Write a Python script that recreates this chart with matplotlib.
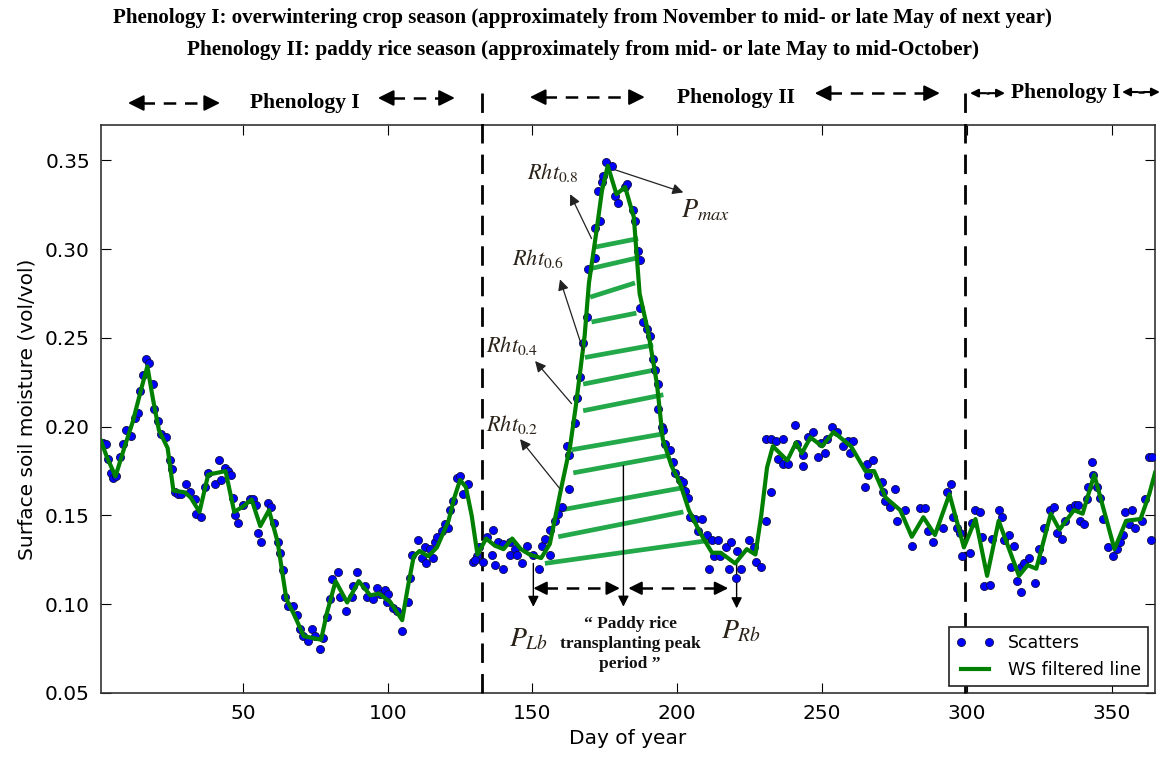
import matplotlib
matplotlib.use("Agg")
import matplotlib.pyplot as plt

# WS filtered line (day of year, soil moisture)
line_day = [1, 3, 6, 9, 12, 15, 17, 19, 21, 24, 26, 30, 32, 35, 38, 41, 44, 47, 50, 53,
            56, 59, 62, 65, 68, 71, 74, 77, 79, 82, 86, 90, 94, 97, 101, 105, 107, 109, 111, 114,
            117, 121, 123, 125, 127, 129, 131, 134, 137, 140, 143, 146, 149, 153, 156, 158, 160, 163, 165, 168,
            169.5, 172, 174, 176, 179, 182, 185, 187, 190, 193, 195, 198, 201, 204, 208, 212, 215, 220, 224, 227,
            229, 231, 233, 238, 241, 243, 246, 250, 254, 257, 260, 265, 268, 272, 277, 281, 285, 289, 294, 299,
            303, 307, 311, 318, 321, 324, 329, 332, 337, 340, 344, 346, 351, 355, 360, 363, 365]
line_val = [0.192, 0.183, 0.172, 0.188, 0.203, 0.222, 0.234, 0.215, 0.198, 0.188, 0.164, 0.163, 0.160, 0.152, 0.173, 0.174, 0.175, 0.152, 0.155, 0.159,
            0.144, 0.153, 0.135, 0.103, 0.093, 0.082, 0.081, 0.080, 0.095, 0.113, 0.101, 0.113, 0.105, 0.106, 0.101, 0.091, 0.110, 0.127, 0.130, 0.127,
            0.132, 0.147, 0.160, 0.170, 0.166, 0.150, 0.128, 0.137, 0.133, 0.131, 0.137, 0.131, 0.128, 0.126, 0.134, 0.150, 0.166, 0.189, 0.212, 0.251,
            0.281, 0.309, 0.333, 0.347, 0.331, 0.335, 0.318, 0.275, 0.253, 0.224, 0.193, 0.178, 0.168, 0.153, 0.140, 0.129, 0.129, 0.123, 0.131, 0.128,
            0.150, 0.177, 0.189, 0.181, 0.191, 0.185, 0.194, 0.189, 0.197, 0.193, 0.189, 0.175, 0.175, 0.160, 0.153, 0.138, 0.149, 0.139, 0.162, 0.132,
            0.148, 0.116, 0.147, 0.116, 0.122, 0.120, 0.151, 0.142, 0.153, 0.151, 0.173, 0.161, 0.131, 0.147, 0.148, 0.162, 0.174]

# raw scatters
scatter_day = [1.7, 2.8, 3.4, 4.6, 5.1, 6.3, 7.5, 8.6, 9.7, 11.5, 12.6, 13.8, 14.4, 15.5, 16.6, 17.5, 18.9, 19.3, 20.7, 21.8,
               23.5, 24.7, 25.5, 26.4, 27.6, 28.7, 30.5, 31.6, 33.4, 33.9, 35.6, 36.8, 37.9, 40.2, 41.6, 42.5, 43.7, 44.9, 46.0, 46.6,
               47.2, 48.3, 50.0, 52.3, 53.5, 54.6, 55.2, 56.4, 58.7, 59.8, 60.9, 62.1, 62.7, 63.8,
               64.5, 65.7, 67.4, 68.6, 69.7, 70.9, 72.6, 73.7, 74.9, 76.6, 77.8, 78.9, 80.1, 80.7, 82.9, 83.5, 85.6, 87.6, 88.1, 89.5,
               92.2, 92.7, 95.0, 96.4, 97.3, 99.1, 100.2, 99.6, 101.9, 103.1, 104.8, 107.1, 107.7, 108.3, 110.6, 111.7, 112.9, 113.4, 114.6, 115.7,
               116.3, 116.9, 118.6, 119.8, 120.9, 121.5, 122.4, 123.8, 125.0, 126.1, 127.8, 129.6, 130.7, 131.6,
               130.1, 133.0, 134.2, 135.9, 136.5, 137.1, 138.2, 139.9, 139.9, 142.2, 142.2, 143.9, 144.5, 146.3, 148.0, 150.3, 152.1, 153.2, 154.4, 156.0,
               156.0, 157.8, 158.9, 160.1, 162.7, 161.8, 162.7, 164.7, 165.5, 166.4, 167.3, 168.7, 169.3, 171.6, 171.6, 173.3, 172.7, 173.9, 174.4, 175.4,
               177.3, 178.5, 179.6, 181.9, 182.7, 184.6, 185.4, 186.5, 187.1, 187.1, 188.3, 189.5, 190.6, 191.5, 192.3, 193.5, 194.6, 195.8,
               193.5, 195.2, 197.5, 198.7, 199.3, 201.0, 202.1, 202.7, 203.8, 204.4, 206.1, 208.4, 207.2, 210.1, 211.9, 214.2, 212.6, 214.9, 210.8, 216.7,
               218.4, 220.7, 218.0, 222.0, 220.2, 224.9, 226.6, 227.2, 228.9, 230.7, 232.5, 230.7, 232.5, 234.2, 236.5, 234.9, 236.6, 238.3, 240.6, 241.2,
               243.5, 243.5, 245.2, 246.9, 248.7, 251.0, 249.8, 251.6, 253.3, 255.0, 257.3, 259.0, 260.8, 259.6, 265.4, 267.7, 266.0, 264.8, 270.6, 271.2,
               275.2, 271.7, 273.5, 275.8, 278.6, 280.9, 283.8, 285.5, 286.7, 288.4, 291.8, 293.0, 294.7, 295.3, 296.5, 298.2, 301.1, 302.8,
               297.6, 301.7, 304.6, 305.2, 305.8, 308.1, 308.7, 311.0, 312.2, 312.8, 314.5, 316.3, 315.2, 317.5, 318.6, 318.6, 319.8, 321.5, 323.6, 324.8,
               325.9, 326.5, 328.8, 330.0, 331.1, 332.9, 334.0, 335.6, 337.3, 338.5, 339.1, 340.3, 341.4, 342.0, 343.2, 343.7, 344.9, 346.0, 347.2, 348.9,
               350.6, 351.8, 353.0, 354.1, 354.7, 357.0, 355.9, 358.2, 360.5, 361.6, 362.8, 363.9, 363.6]
scatter_val = [0.191, 0.190, 0.182, 0.174, 0.171, 0.172, 0.183, 0.190, 0.198, 0.195, 0.205, 0.208, 0.220, 0.229, 0.238, 0.236, 0.224, 0.210, 0.203, 0.196,
               0.194, 0.181, 0.176, 0.163, 0.162, 0.162, 0.168, 0.163, 0.159, 0.151, 0.149, 0.166, 0.174, 0.168, 0.181, 0.170, 0.177, 0.175, 0.173, 0.160,
               0.150, 0.146, 0.156, 0.159, 0.159, 0.156, 0.140, 0.135, 0.157, 0.155, 0.146, 0.135, 0.129, 0.119,
               0.104, 0.099, 0.099, 0.094, 0.086, 0.082, 0.079, 0.086, 0.082, 0.075, 0.081, 0.093, 0.103, 0.114, 0.118, 0.104, 0.096, 0.104, 0.110, 0.118,
               0.110, 0.104, 0.103, 0.109, 0.106, 0.108, 0.106, 0.101, 0.098, 0.096, 0.085, 0.101, 0.115, 0.128, 0.136, 0.126, 0.132, 0.123, 0.131, 0.126,
               0.135, 0.138, 0.141, 0.145, 0.143, 0.153, 0.158, 0.171, 0.172, 0.162, 0.168, 0.124, 0.127, 0.132,
               0.125, 0.124, 0.138, 0.128, 0.142, 0.122, 0.135, 0.120, 0.134, 0.135, 0.128, 0.131, 0.128, 0.123, 0.133, 0.128, 0.120, 0.133, 0.137, 0.128,
               0.142, 0.147, 0.151, 0.155, 0.165, 0.189, 0.184, 0.202, 0.216, 0.228, 0.247, 0.262, 0.289, 0.295, 0.312, 0.316, 0.333, 0.338, 0.341, 0.349,
               0.347, 0.330, 0.326, 0.335, 0.337, 0.322, 0.316, 0.299, 0.294, 0.267, 0.259, 0.255, 0.251, 0.238, 0.232, 0.224, 0.200, 0.190,
               0.210, 0.198, 0.187, 0.180, 0.174, 0.170, 0.169, 0.164, 0.160, 0.149, 0.148, 0.148, 0.141, 0.139, 0.136, 0.136, 0.127, 0.127, 0.120, 0.132,
               0.135, 0.130, 0.120, 0.120, 0.115, 0.136, 0.132, 0.124, 0.121, 0.147, 0.163, 0.193, 0.193, 0.192, 0.193, 0.182, 0.179, 0.179, 0.201, 0.190,
               0.178, 0.184, 0.194, 0.197, 0.183, 0.185, 0.191, 0.193, 0.200, 0.197, 0.189, 0.192, 0.192, 0.185, 0.179, 0.181, 0.173, 0.166, 0.169, 0.163,
               0.165, 0.158, 0.155, 0.147, 0.153, 0.133, 0.154, 0.154, 0.141, 0.135, 0.143, 0.163, 0.168, 0.149, 0.143, 0.127, 0.129, 0.153,
               0.140, 0.146, 0.152, 0.138, 0.110, 0.111, 0.137, 0.153, 0.149, 0.136, 0.139, 0.133, 0.121, 0.113, 0.107, 0.121, 0.123, 0.126, 0.112, 0.131,
               0.125, 0.143, 0.153, 0.155, 0.140, 0.137, 0.147, 0.154, 0.156, 0.156, 0.147, 0.145, 0.159, 0.166, 0.180, 0.173, 0.166, 0.160, 0.148, 0.132,
               0.127, 0.131, 0.135, 0.139, 0.152, 0.153, 0.145, 0.143, 0.147, 0.159, 0.183, 0.183, 0.136]

# relative-height hatch segments across the rice peak
hatch_x0 = [171.0, 169.9, 169.9, 170.4, 168.1, 167.5, 167.5, 163.5, 164.1, 159.5, 158.9, 154.3]
hatch_y0 = [0.301, 0.289, 0.273, 0.259, 0.239, 0.224, 0.209, 0.187, 0.174, 0.153, 0.138, 0.123]
hatch_x1 = [186.5, 185.9, 185.4, 185.9, 191.7, 192.3, 195.2, 195.2, 197.5, 203.2, 202.1, 211.3]
hatch_y1 = [0.306, 0.295, 0.281, 0.264, 0.246, 0.232, 0.218, 0.196, 0.184, 0.166, 0.152, 0.136]

# phenology boundaries
season_breaks = [132.5, 299.5]

# Rht labels: text, label pos, arrow head, arrow tail
rht_labels = [r'$\mathit{Rht_{0.8}}$', r'$\mathit{Rht_{0.6}}$', r'$\mathit{Rht_{0.4}}$', r'$\mathit{Rht_{0.2}}$']
rht_text = [(157.1, 0.343), (151.9, 0.295), (142.9, 0.246), (142.9, 0.201)]
rht_head = [(163.0, 0.331), (159.5, 0.283), (150.9, 0.237), (145.7, 0.193)]
rht_tail = [(170.4, 0.306), (167.5, 0.243), (163.5, 0.213), (159.5, 0.165)]

plt.rcParams['mathtext.fontset'] = 'stix'

fig = plt.figure(figsize=(11.68, 7.62), dpi=100)
ax = fig.add_axes([0.0865, 0.0906, 0.9024, 0.7454])

serif = 'Liberation Serif'
txt_col = '#2a2218'

# hatch lines first so the series sit on top
for i in range(len(hatch_x0)):
    ax.plot([hatch_x0[i], hatch_x1[i]], [hatch_y0[i], hatch_y1[i]], color='#23a84a', lw=3.4,
            solid_capstyle='butt', zorder=2)

ax.plot(scatter_day, scatter_val, 'o', color='#0000ff', mec='#101040', mew=0.6, ms=5.8,
        label='Scatters', zorder=4)
ax.plot(line_day, line_val, '-', color='#008000', lw=3, label='WS filtered line', zorder=5)

for xb in season_breaks:
    ax.axvline(xb, ymin=0, ymax=1.065, color='k', lw=2, dashes=(7, 4), clip_on=False, zorder=3)

ax.set_xlim(1, 365)
ax.set_ylim(0.05, 0.37)
ax.set_xticks([50, 100, 150, 200, 250, 300, 350])
ax.set_yticks([0.05, 0.10, 0.15, 0.20, 0.25, 0.30, 0.35])
ax.set_yticklabels(['0.05', '0.10', '0.15', '0.20', '0.25', '0.30', '0.35'])
ax.tick_params(direction='in', top=True, right=True, length=7, labelsize=14.5, pad=8)
for s in ax.spines.values():
    s.set_linewidth(1.2)
    s.set_color('#333333')
ax.set_xlabel('Day of year', fontsize=14.5, labelpad=4)
ax.set_ylabel('Surface soil moisture (vol/vol)', fontsize=14.5, labelpad=6)

# Rht arrows
for lab, tp, hp, tl in zip(rht_labels, rht_text, rht_head, rht_tail):
    ax.annotate('', xy=hp, xytext=tl,
                arrowprops=dict(arrowstyle='-|>', color='#222222', lw=0.9, mutation_scale=16,
                                shrinkA=0, shrinkB=0), zorder=6)
    ax.text(tp[0], tp[1], lab, fontsize=16, color=txt_col, ha='center', va='center')

# Pmax
ax.annotate('', xy=(202.1, 0.332), xytext=(176.2, 0.346),
            arrowprops=dict(arrowstyle='-|>', color='#222222', lw=0.9, mutation_scale=16,
                            shrinkA=0, shrinkB=0))
ax.text(209.6, 0.322, r'$P_{max}$', fontsize=19, color=txt_col, ha='center', va='center')

# left / right base points
ax.annotate('', xy=(150.3, 0.0985), xytext=(150.3, 0.123),
            arrowprops=dict(arrowstyle='-|>', color='k', lw=1, mutation_scale=16, shrinkA=0, shrinkB=0))
ax.text(148.6, 0.081, r'$P_{Lb}$', fontsize=20, color=txt_col, ha='center', va='center')
ax.annotate('', xy=(220.5, 0.0977), xytext=(220.5, 0.123),
            arrowprops=dict(arrowstyle='-|>', color='k', lw=1, mutation_scale=16, shrinkA=0, shrinkB=0))
ax.text(221.9, 0.0855, r'$P_{Rb}$', fontsize=20, color=txt_col, ha='center', va='center')
ax.annotate('', xy=(181.4, 0.0986), xytext=(181.4, 0.178),
            arrowprops=dict(arrowstyle='-|>', color='k', lw=1, mutation_scale=16, shrinkA=0, shrinkB=0))


def dash_arrow(x0, x1, y, trans, head=7.0, scale=22):
    ax.plot([x0 + head, x1 - head], [y, y], color='k', lw=1.8, dashes=(5, 3.5),
            transform=trans, clip_on=False)
    for a, b in [(x0 + head, x0), (x1 - head, x1)]:
        ax.annotate('', xy=(b, y), xytext=(a, y), xycoords=trans, textcoords=trans,
                    annotation_clip=False,
                    arrowprops=dict(arrowstyle='-|>', color='k', lw=1.5, mutation_scale=scale,
                                    shrinkA=0, shrinkB=0))


# transplanting peak period arrows
dash_arrow(150.3, 180.2, 0.109, ax.transData, head=4, scale=20)
dash_arrow(183.1, 217.6, 0.109, ax.transData, head=4, scale=20)
ax.text(183.7, 0.0776, u'\u201c Paddy rice\ntransplanting peak\nperiod \u201d', fontsize=12.5,
        fontweight='bold', family=serif, color='#111111', ha='center', va='center', linespacing=1.35)

# phenology bands above the axes
top = ax.get_xaxis_transform()
dash_arrow(10.3, 42.1, 1.0387, top, head=5, scale=24)
dash_arrow(96.6, 123.2, 1.0475, top, head=5, scale=24)
dash_arrow(149.1, 188.8, 1.049, top, head=5, scale=24)
dash_arrow(247.5, 290.7, 1.056, top, head=5, scale=24)
dash_arrow(301.1, 313.2, 1.056, top, head=5.5, scale=12)
dash_arrow(353.6, 366.7, 1.058, top, head=5.5, scale=12)
ax.text(71.4, 1.0387, 'Phenology I', transform=top, fontsize=15.5, fontweight='bold', family=serif,
        ha='center', va='center')
ax.text(220.3, 1.0475, 'Phenology II', transform=top, fontsize=15.5, fontweight='bold', family=serif,
        ha='center', va='center')
ax.text(334.2, 1.056, 'Phenology I', transform=top, fontsize=15.5, fontweight='bold', family=serif,
        ha='center', va='center')

fig.text(0.499, 0.977, 'Phenology I: overwintering crop season (approximately from November to mid- or late May of next year)',
         fontsize=15.1, fontweight='bold', family=serif, ha='center', va='center')
fig.text(0.499, 0.934, 'Phenology II: paddy rice season (approximately from mid- or late May to mid-October)',
         fontsize=15.3, fontweight='bold', family=serif, ha='center', va='center')

leg = ax.legend(loc='lower right', numpoints=2, fontsize=12.5, fancybox=False, framealpha=1,
                edgecolor='#222222', borderpad=0.4, handlelength=2.2, labelspacing=0.5,
                borderaxespad=0.4)
leg.get_frame().set_linewidth(1.2)

fig.savefig('out.png', dpi=100)
